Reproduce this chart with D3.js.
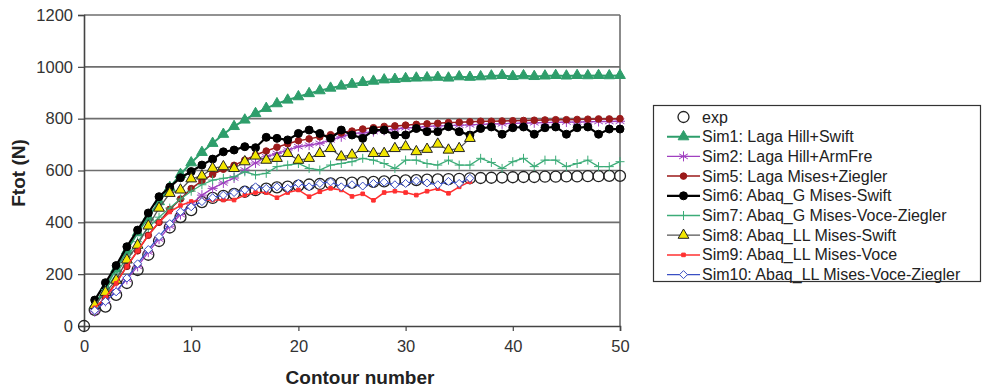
<!DOCTYPE html>
<html lang="en">
<head>
<meta charset="UTF-8">
<title>Ftot vs contour number</title>
<script src="https://d3js.org/d3.v7.min.js"></script>
<style>
    body { margin: 0; background: #fff; font-family: "Liberation Sans", Arial, sans-serif; }
    .tick text { font-size: 16.5px; fill: #333; }
    .axis-title { font-size: 19px; font-weight: bold; fill: #222; }
    .legend text { font-size: 16px; fill: #222; }
</style>
</head>
<body>
<div id="chart"></div>
<script>
// values, contour 1..50 (exp starts at contour 0)
const yTicks = [0, 200, 400, 600, 800, 1000, 1200];
const xTicks = [0, 10, 20, 30, 40, 50];

const expVals = [0, 62, 75, 120, 166, 216, 275, 328, 380, 420,
    447, 478, 494, 502, 510, 518, 524, 530, 535, 538,
    542, 546, 548, 550, 552, 553, 555, 556, 558, 560,
    562, 563, 565, 566, 567, 568, 570, 571, 572, 573,
    574, 575, 575, 576, 576, 577, 577, 578, 578, 579, 579];
const sim1 = [80, 150, 220, 290, 360, 420, 480, 535, 585, 630,
    670, 705, 740, 770, 795, 820, 840, 858, 872, 885,
    897, 908, 918, 926, 933, 940, 945, 950, 952, 955,
    957, 958, 960, 957, 962, 960, 962, 965, 967, 963,
    966, 963, 965, 967, 965, 967, 966, 967, 966, 967];
const sim2 = [55, 95, 135, 180, 230, 285, 335, 385, 430, 470,
    505, 531, 552, 571, 602, 629, 653, 666, 679, 692,
    698, 705, 718, 730, 743, 745, 750, 755, 760, 765,
    766, 770, 772, 773, 775, 776, 778, 780, 780, 782,
    783, 784, 785, 786, 787, 787, 788, 789, 789, 790];
const sim5 = [65, 110, 170, 230, 290, 350, 400, 450, 490, 530,
    560, 585, 605, 620, 640, 660, 675, 690, 703, 715,
    722, 730, 738, 745, 752, 760, 765, 770, 772, 775,
    778, 780, 782, 785, 786, 788, 790, 790, 791, 792,
    793, 794, 795, 796, 796, 797, 798, 799, 799, 800];
const sim6 = [100, 167, 233, 306, 370, 436, 499, 536, 572, 596,
    621, 644, 672, 679, 692, 688, 728, 724, 718, 743,
    756, 743, 724, 756, 737, 724, 756, 756, 737, 737,
    762, 750, 750, 769, 750, 737, 762, 768, 740, 765,
    768, 740, 765, 768, 740, 765, 768, 740, 760, 760];
const sim7 = [75, 140, 200, 265, 325, 380, 420, 455, 490, 520,
    545, 563, 570, 576, 595, 583, 589, 615, 621, 627,
    608, 602, 621, 627, 634, 647, 640, 627, 608, 640,
    640, 627, 621, 640, 621, 621, 647, 631, 608, 634,
    647, 615, 640, 640, 615, 627, 640, 615, 615, 634];
const sim8 = [80, 130, 177, 255, 312, 386, 455, 512, 525, 568,
    579, 609, 615, 608, 634, 656, 640, 647, 666, 640,
    647, 666, 685, 653, 660, 685, 666, 666, 685, 692,
    673, 682, 702, 679, 685, 724];
const sim9 = [70, 110, 165, 230, 290, 350, 400, 440, 465, 480,
    484, 486, 486, 486, 505, 515, 515, 495, 515, 525,
    499, 518, 531, 525, 500, 510, 485, 515, 520, 515,
    505, 520, 530, 512, 537, 557];
const sim10 = [60, 95, 132, 185, 240, 295, 345, 395, 441, 460,
    480, 495, 505, 515, 525, 537, 531, 537, 531, 550,
    537, 550, 556, 537, 545, 540, 550, 555, 545, 550,
    560, 552, 545, 558, 550, 570];

const labels = ["exp", "Sim1: Laga Hill+Swift", "Sim2: Laga Hill+ArmFre", "Sim5: Laga Mises+Ziegler",
    "Sim6: Abaq_G Mises-Swift", "Sim7: Abaq_G Mises-Voce-Ziegler", "Sim8: Abaq_LL Mises-Swift",
    "Sim9: Abaq_LL Mises-Voce", "Sim10: Abaq_LL Mises-Voce-Ziegler"];

// series styles
const series = [
    { name: labels[0], vals: expVals, start: 0, line: null, lw: 0, mark: "circle", fill: "none", stroke: "#222", r: 5.5 },
    { name: labels[1], vals: sim1, start: 1, line: "#2e9e6b", lw: 2, mark: "triangle", fill: "#2e9e6b", stroke: "#2e9e6b", r: 5 },
    { name: labels[2], vals: sim2, start: 1, line: "#a040c0", lw: 1.3, mark: "star", fill: "none", stroke: "#a040c0", r: 5 },
    { name: labels[3], vals: sim5, start: 1, line: "#9b1a1a", lw: 1.5, mark: "dot", fill: "#9b1a1a", stroke: "#9b1a1a", r: 3.3 },
    { name: labels[4], vals: sim6, start: 1, line: "#000", lw: 2.2, mark: "dot", fill: "#000", stroke: "#000", r: 4 },
    { name: labels[5], vals: sim7, start: 1, line: "#3cac78", lw: 1.3, mark: "plus", fill: "none", stroke: "#3cac78", r: 4.5 },
    { name: labels[6], vals: sim8, start: 1, line: "#555", lw: 1.3, mark: "triangle", fill: "#f2e600", stroke: "#222", r: 5 },
    { name: labels[7], vals: sim9, start: 1, line: "#ff3030", lw: 1.5, mark: "square", fill: "#ff3030", stroke: "#ff3030", r: 1.8 },
    { name: labels[8], vals: sim10, start: 1, line: "#3a4fc4", lw: 1.3, mark: "diamond", fill: "#fff", stroke: "#3a4fc4", r: 4 }
];

const W = 983, H = 387;
const margin = { top: 15, left: 84 };
const pw = 536, ph = 311;

const svg = d3.select("#chart").append("svg").attr("width", W).attr("height", H);
const g = svg.append("g").attr("transform", `translate(${margin.left},${margin.top})`);

const x = d3.scaleLinear().domain([0, 50]).range([0, pw]);
const y = d3.scaleLinear().domain([0, 1200]).range([ph, 0]);

// gridlines
g.append("g").selectAll("line").data(yTicks.slice(1)).join("line")
    .attr("x1", 0).attr("x2", pw)
    .attr("y1", d => y(d)).attr("y2", d => y(d))
    .attr("stroke", "#6e6e6e").attr("stroke-width", 1.6);
// right frame
g.append("line").attr("x1", pw).attr("x2", pw).attr("y1", 0).attr("y2", ph)
    .attr("stroke", "#6e6e6e").attr("stroke-width", 1.6);

// axes
const yAxis = g.append("g").call(d3.axisLeft(y).tickValues(yTicks).tickFormat(d3.format("d")).tickSize(6).tickPadding(5));
const xAxis = g.append("g").attr("transform", `translate(0,${ph})`)
    .call(d3.axisBottom(x).tickValues(xTicks).tickSize(5).tickPadding(9));
[xAxis, yAxis].forEach(a => {
    a.select(".domain").attr("stroke", "#444").attr("stroke-width", 1.6);
    a.selectAll(".tick line").attr("stroke", "#444").attr("stroke-width", 1.2);
});

svg.append("text").attr("class", "axis-title")
    .attr("x", 360).attr("y", 384).attr("text-anchor", "middle")
    .text("Contour number");
svg.append("text").attr("class", "axis-title")
    .attr("transform", `translate(25,173) rotate(-90)`)
    .attr("text-anchor", "middle").text("Ftot (N)");

// marker paths
function markerPath(type, r) {
    if (type === "triangle") return d3.symbol(d3.symbolTriangle, r * r * 2)();
    if (type === "diamond") return `M0,${-r}L${r},0L0,${r}L${-r},0Z`;
    if (type === "square") return `M${-r},${-r}H${r}V${r}H${-r}Z`;
    if (type === "plus") return `M${-r},0H${r}M0,${-r}V${r}`;
    if (type === "star") {
        const a = r * 0.87, b = r * 0.5;
        return `M${-a},${-b}L${a},${b}M${-a},${b}L${a},${-b}M0,${-r}V${r}M${-r},0H${r}`;
    }
    return d3.symbol(d3.symbolCircle, Math.PI * r * r)();
}

function drawMarks(sel, s) {
    sel.append("path").attr("d", markerPath(s.mark, s.r))
        .attr("fill", s.fill).attr("stroke", s.stroke)
        .attr("stroke-width", s.mark === "circle" ? 1.3 : 1);
}

const line = d3.line().x(d => x(d[0])).y(d => y(d[1]));

series.forEach(s => {
    const pts = s.vals.map((v, i) => [i + s.start, v]);
    const sg = g.append("g");
    if (s.line) {
        sg.append("path").datum(pts).attr("d", line)
            .attr("fill", "none").attr("stroke", s.line).attr("stroke-width", s.lw);
    }
    sg.selectAll("g").data(pts).join("g")
        .attr("transform", d => `translate(${x(d[0])},${y(d[1])})`)
        .each(function () { drawMarks(d3.select(this), s); });
});

// legend
const lg = svg.append("g").attr("class", "legend");
lg.append("rect").attr("x", 653.5).attr("y", 105.5).attr("width", 327).attr("height", 176)
    .attr("fill", "#fff").attr("stroke", "#333").attr("stroke-width", 1.2);
series.forEach((s, k) => {
    const ly = 117 + k * 19.7;
    if (s.line) {
        lg.append("line").attr("x1", 667).attr("x2", 700).attr("y1", ly).attr("y2", ly)
            .attr("stroke", s.line).attr("stroke-width", s.lw);
    }
    drawMarks(lg.append("g").attr("transform", `translate(683.5,${ly})`), s);
    lg.append("text").attr("x", 702).attr("y", ly + 5.5).text(s.name);
});
</script>
</body>
</html>
